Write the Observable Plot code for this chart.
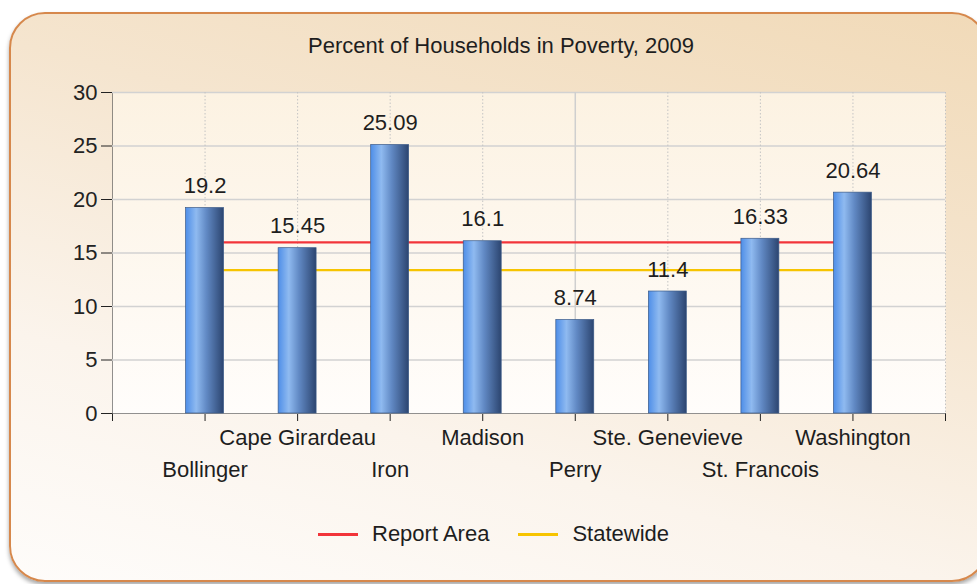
<!DOCTYPE html>
<html>
<head>
<meta charset="utf-8">
<script src="https://cdn.jsdelivr.net/npm/d3@7"></script>
<script src="https://cdn.jsdelivr.net/npm/@observablehq/plot@0.6"></script>
<style>
  html, body { margin: 0; padding: 0; background: #ffffff; width: 977px; height: 584px; overflow: hidden; }
  body { position: relative; font-family: "Liberation Sans", Arial, sans-serif; color: #1e1e1e; }
  #panel {
    position: absolute; left: 9px; top: 12px; width: 975px; height: 566px;
    border: 2px solid #d6884c; border-radius: 36px;
    background: linear-gradient(195deg, #f1dab8 0%, #f5e5cf 35%, #fbf4ec 70%, #fefcfa 100%);
    box-shadow: 0 3px 4px rgba(0,0,0,0.35);
  }
  #title { position: absolute; left: 0; width: 1002px; top: 33px; text-align: center; font-size: 22px; }
  #chart { position: absolute; left: 0; top: 0; }
  #legend { position: absolute; left: 318px; top: 521px; display: flex; align-items: center; font-size: 22px; }
  .sw { width: 40px; height: 3px; margin-right: 14px; }
  .item { display: flex; align-items: center; margin-right: 29px; }
</style>
</head>
<body>
<div id="panel"></div>
<div id="title">Percent of Households in Poverty, 2009</div>
<div id="chart"></div>
<div id="legend"></div>
<script>
const categories = ["Bollinger", "Cape Girardeau", "Iron", "Madison", "Perry", "Ste. Genevieve", "St. Francois", "Washington"];
const values = [19.2, 15.45, 25.09, 16.1, 8.74, 11.4, 16.33, 20.64];
const reportArea = 16.0;
const statewide = 13.4;
const yTicks = [0, 5, 10, 15, 20, 25, 30];
const xTicks = [0, 1, 2, 3, 4, 5, 6, 7, 8, 9];
const seriesNames = ["Report Area", "Statewide"];
const seriesColors = ["#f2343a", "#f7c400"];

const rows = categories.map((c, i) => ({cat: c, pos: i + 1, value: values[i], row: i % 2}));
const first = rows[0].pos, last = rows[rows.length - 1].pos;
const refLines = [
  {v: reportArea, x1: first, x2: last, color: seriesColors[0]},
  {v: statewide, x1: first, x2: last, color: seriesColors[1]}
];
const dotted = xTicks.filter(t => t > 0 && t !== 5);
const solid = xTicks.filter(t => t === 5);

const svg = Plot.plot({
  width: 977,
  height: 500,
  marginLeft: 112,
  marginRight: 32,
  marginTop: 92,
  marginBottom: 87,
  style: {fontFamily: "'Liberation Sans', Arial, sans-serif", fontSize: "22px", color: "#222", background: "transparent", overflow: "visible"},
  x: {domain: [0, 9], ticks: xTicks, tickFormat: () => "", tickSize: 8, line: true, label: null},
  y: {domain: [0, 30], ticks: yTicks, tickSize: 11, tickPadding: 4, line: true, label: null},
  marks: [
    Plot.frame({fill: "url(#plotBg)", stroke: "none"}),
    Plot.ruleY(yTicks.filter(t => t > 0), {stroke: "#d2d2d2", strokeWidth: 1.5}),
    Plot.ruleX(dotted, {stroke: "#c4c4c4", strokeWidth: 1, strokeDasharray: "1.5,2"}),
    Plot.ruleX(solid, {stroke: "#cfcfcf", strokeWidth: 1.5}),
    Plot.ruleY(refLines, {y: "v", x1: "x1", x2: "x2", stroke: "color", strokeWidth: 2.2}),
    Plot.rectY(rows, {x1: d => d.pos - 0.205, x2: d => d.pos + 0.205, y: "value", fill: "url(#barGrad)", stroke: "#3b5a88", strokeWidth: 0.7}),
    Plot.text(rows, {x: "pos", y: "value", text: d => String(d.value), dy: -22, fontSize: 22, fill: "#1e1e1e"}),
    Plot.text(rows.filter(d => d.row === 1), {x: "pos", text: "cat", frameAnchor: "bottom", dy: 31, fontSize: 22, fill: "#1e1e1e"}),
    Plot.text(rows.filter(d => d.row === 0), {x: "pos", text: "cat", frameAnchor: "bottom", dy: 63, fontSize: 22, fill: "#1e1e1e"})
  ]
});

const defs = document.createElementNS("http://www.w3.org/2000/svg", "defs");
defs.innerHTML = `
  <linearGradient id="barGrad" x1="0" y1="0" x2="1" y2="0">
    <stop offset="0%" stop-color="#4e8ee8"/>
    <stop offset="28%" stop-color="#8fbaf0"/>
    <stop offset="55%" stop-color="#6189c4"/>
    <stop offset="100%" stop-color="#2c4570"/>
  </linearGradient>
  <linearGradient id="plotBg" x1="0" y1="0" x2="0" y2="1">
    <stop offset="0%" stop-color="#fcf2e2"/>
    <stop offset="100%" stop-color="#fffdfb"/>
  </linearGradient>`;
svg.insertBefore(defs, svg.firstChild);
document.getElementById("chart").appendChild(svg);

const legend = document.getElementById("legend");
seriesNames.forEach((name, i) => {
  const item = document.createElement("div");
  item.className = "item";
  const sw = document.createElement("div");
  sw.className = "sw";
  sw.style.background = seriesColors[i];
  const label = document.createElement("span");
  label.textContent = name;
  item.appendChild(sw);
  item.appendChild(label);
  legend.appendChild(item);
});
</script>
</body>
</html>
